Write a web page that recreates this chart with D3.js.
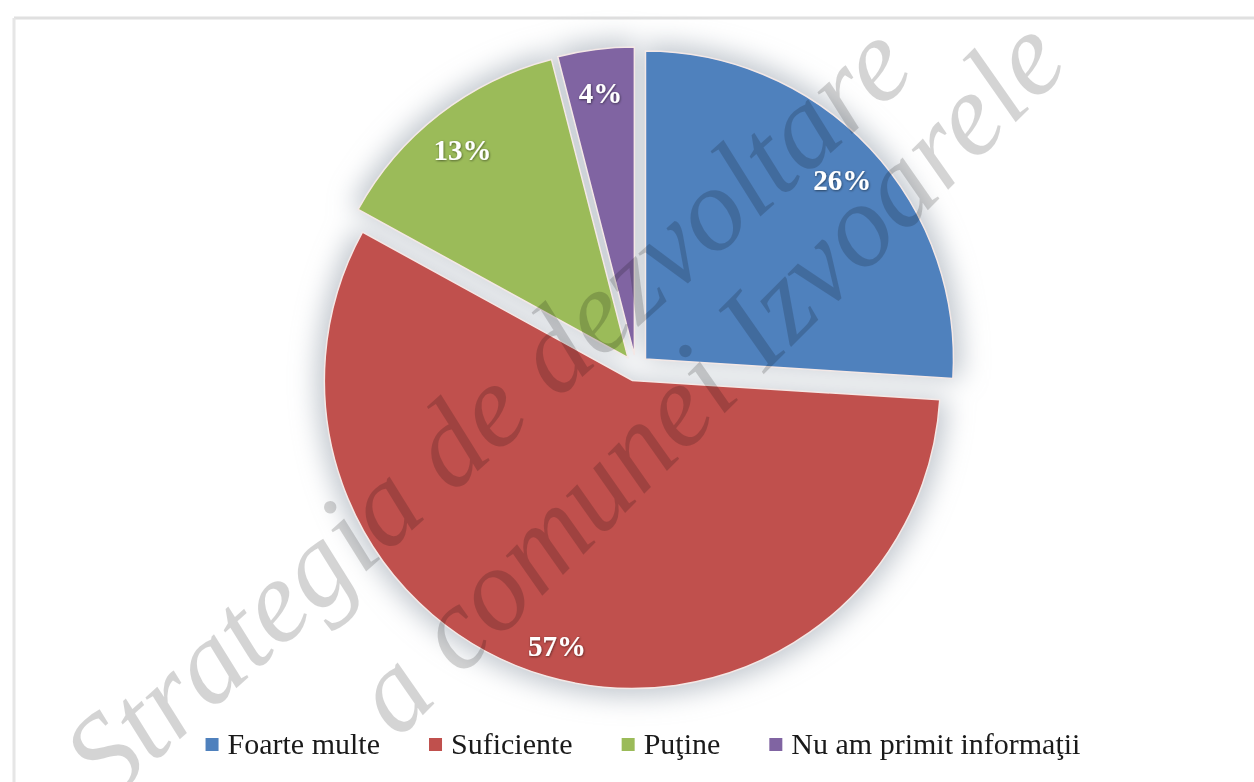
<!DOCTYPE html>
<html><head><meta charset="utf-8">
<script src="https://cdn.jsdelivr.net/npm/d3@7"></script>
<style>
html,body{margin:0;padding:0;background:#fff;}
svg{display:block;}
</style></head>
<body>
<svg id="chart" width="1254" height="782"></svg>
<script>
const categories = ["Foarte multe", "Suficiente", "Puţine", "Nu am primit informaţii"];
const values = [26, 57, 13, 4];
const labels = ["26%", "57%", "13%", "4%"];
const watermarkLines = ["Strategia de dezvoltare", "a comunei Izvoarele"];

const W = 1254, H = 782;
const cx = 636, cy = 368, R = 308, explode = 13, labelR = 270;
const palette = ["#4f81bd", "#c0504d", "#9bbb59", "#8064a2"];
const color = d3.scaleOrdinal().domain(categories).range(palette);

const svg = d3.select("#chart");
const defs = svg.append("defs");
const f = defs.append("filter").attr("id", "glow").attr("x", "-20%").attr("y", "-20%").attr("width", "140%").attr("height", "140%");
f.append("feGaussianBlur").attr("stdDeviation", 13);
const ts = defs.append("filter").attr("id", "tshadow");
ts.append("feDropShadow").attr("dx", 0.6).attr("dy", 0.8).attr("stdDeviation", 0.8).attr("flood-color", "#000").attr("flood-opacity", 0.55);

// chart frame
svg.append("line").attr("x1", 14).attr("y1", 18).attr("x2", W).attr("y2", 18).attr("stroke", "#e0e0e0").attr("stroke-width", 3);
svg.append("line").attr("x1", 14).attr("y1", 18).attr("x2", 14).attr("y2", H).attr("stroke", "#e6e6e6").attr("stroke-width", 3);

const pie = d3.pie().sort(null).value(d => d)(values);
const arc = d3.arc().innerRadius(0).outerRadius(R);
const offset = d => {
  const m = (d.startAngle + d.endAngle) / 2;
  return [cx + explode * Math.sin(m), cy - explode * Math.cos(m)];
};

// soft shadow behind pie
svg.append("g").attr("filter", "url(#glow)")
  .selectAll("path").data(pie).join("path")
  .attr("transform", d => `translate(${offset(d)})`)
  .attr("d", d3.arc().innerRadius(0).outerRadius(R + 8))
  .attr("fill", "#a7afb9").attr("opacity", 0.7);

svg.append("g").selectAll("path").data(pie).join("path")
  .attr("transform", d => `translate(${offset(d)})`)
  .attr("d", arc)
  .attr("fill", (d, i) => color(categories[i]))
  .attr("stroke", "#f4e8e6").attr("stroke-width", 1.5);

svg.append("g").selectAll("text").data(pie).join("text")
  .attr("transform", d => {
    const [ox, oy] = offset(d);
    const m = (d.startAngle + d.endAngle) / 2;
    return `translate(${ox + labelR * Math.sin(m)},${oy - labelR * Math.cos(m) + 6})`;
  })
  .attr("text-anchor", "middle").attr("dominant-baseline", "central")
  .attr("font-family", "Liberation Serif, serif").attr("font-weight", "bold")
  .attr("font-size", 29).attr("fill", "#fff").attr("filter", "url(#tshadow)")
  .text((d, i) => labels[i]);

// legend
const lg = svg.append("g").attr("font-family", "Liberation Serif, serif").attr("font-size", 30).attr("fill", "#1a1a1a");
const items = lg.selectAll("g").data(categories).join("g");
items.append("rect").attr("width", 13).attr("height", 13).attr("y", -16).attr("fill", d => color(d));
items.append("text").attr("x", 22).attr("y", 0).text(d => d);
const gap = 49;
const widths = [];
items.each(function () { widths.push(this.getBBox().width); });
const total = d3.sum(widths) + gap * (widths.length - 1);
let x0 = 643 - total / 2;
items.attr("transform", (d, i) => { const t = `translate(${x0},754)`; x0 += widths[i] + gap; return t; });

// watermark
const wm = svg.append("g").attr("font-family", "Liberation Serif, serif").attr("font-style", "italic")
  .attr("font-size", 118).attr("fill", "#000").attr("fill-opacity", 0.17)
  .attr("pointer-events", "none");
wm.append("text").attr("transform", "translate(108,804) rotate(-42)").text(watermarkLines[0]);
wm.append("text").attr("transform", "translate(398,740) rotate(-45)").text(watermarkLines[1]);
</script>
</body></html>
